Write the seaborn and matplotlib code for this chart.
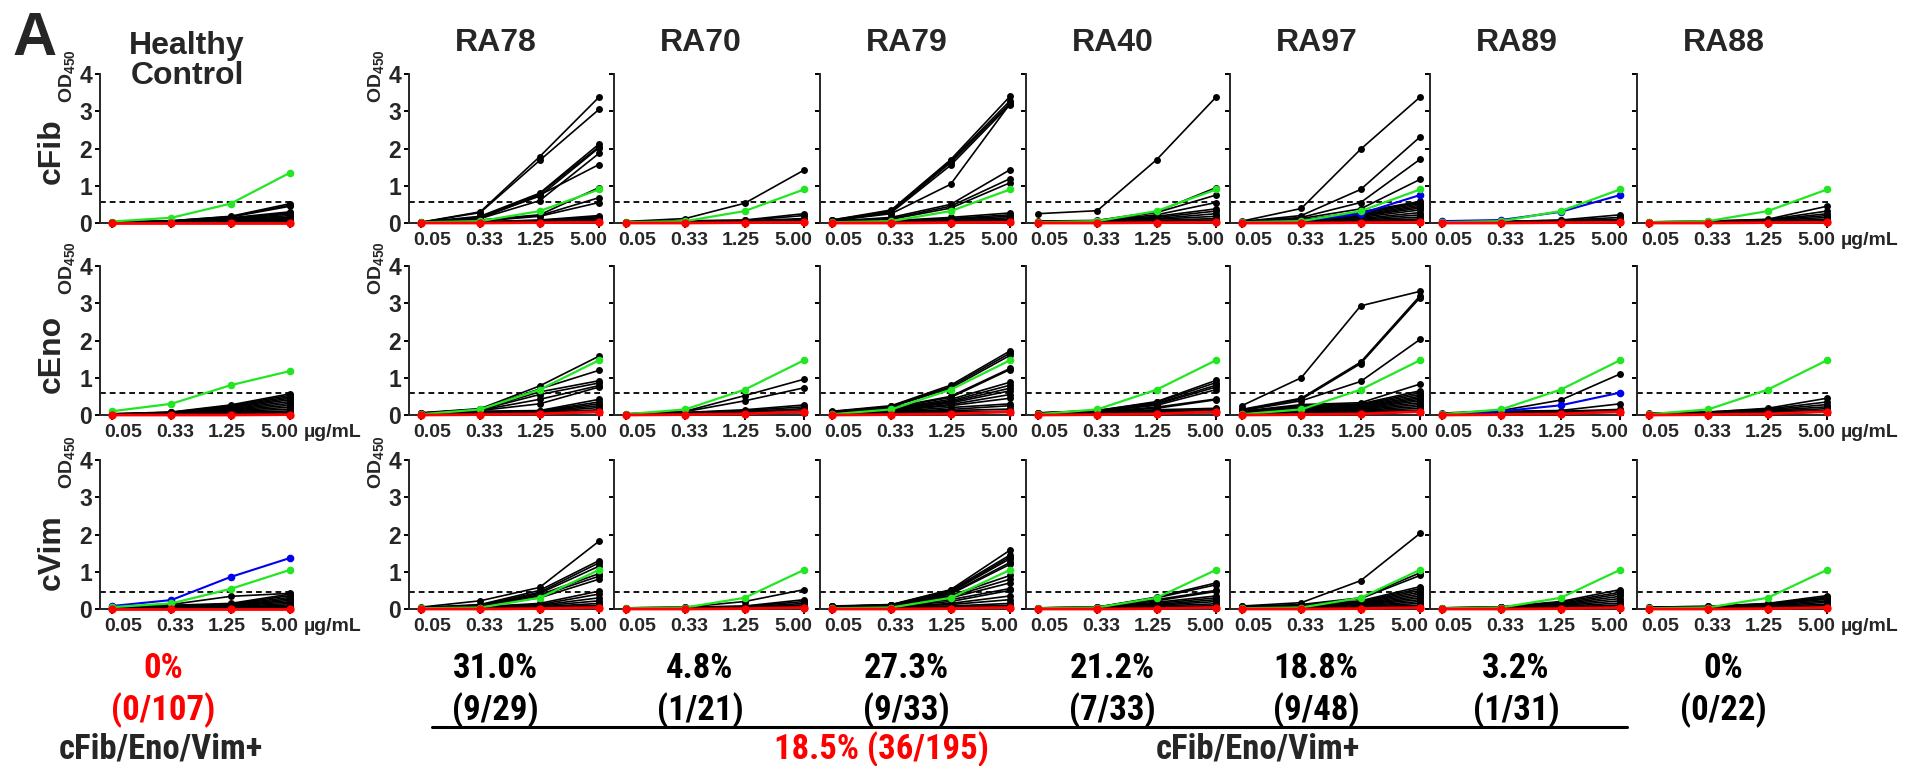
import matplotlib
matplotlib.use("Agg")
import matplotlib.pyplot as plt
from matplotlib import font_manager as fm
import pandas as pd
import seaborn as sns

# ---------------------------------------------------------------- labels
concentrations = ["0.05", "0.33", "1.25", "5.00"]
columns = ["Healthy\nControl", "RA78", "RA70", "RA79", "RA40", "RA97", "RA89", "RA88"]
antigens = ["cFib", "cEno", "cVim"]
cutoffs = [0.57, 0.58, 0.46]
positive_pct = ["0%", "31.0%", "4.8%", "27.3%", "21.2%", "18.8%", "3.2%", "0%"]
positive_counts = ["(0/107)", "(9/29)", "(1/21)", "(9/33)", "(7/33)", "(9/48)", "(1/31)", "(0/22)"]
ra_total = "18.5% (36/195)"
combo_label = "cFib/Eno/Vim+"

# ---------------------------------------------------------------- OD450 per serum (0.05, 0.33, 1.25, 5.00 ug/mL)
fib_hc = [[0.02, 0.06, 0.18, 0.52], [0.02, 0.06, 0.17, 0.48], [0.02, 0.05, 0.16, 0.45],
          [0.02, 0.05, 0.14, 0.30], [0.02, 0.04, 0.12, 0.27], [0.01, 0.04, 0.10, 0.24],
          [0.01, 0.03, 0.09, 0.20], [0.01, 0.03, 0.08, 0.16], [0.01, 0.03, 0.07, 0.13],
          [0.01, 0.02, 0.06, 0.10], [0.01, 0.02, 0.05, 0.08], [0.01, 0.02, 0.04, 0.06],
          [0.01, 0.02, 0.03, 0.04]]
fib_ra78 = [[0.02, 0.30, 1.78, 3.38], [0.02, 0.28, 1.68, 3.05], [0.02, 0.18, 0.80, 2.12],
            [0.02, 0.16, 0.78, 2.05], [0.02, 0.15, 0.72, 2.02], [0.02, 0.12, 0.60, 1.87],
            [0.02, 0.12, 0.75, 1.57], [0.02, 0.08, 0.22, 0.95], [0.02, 0.06, 0.20, 0.68],
            [0.02, 0.05, 0.18, 0.55], [0.01, 0.03, 0.08, 0.20], [0.01, 0.03, 0.07, 0.17],
            [0.01, 0.02, 0.06, 0.14], [0.01, 0.02, 0.05, 0.12], [0.01, 0.02, 0.05, 0.10],
            [0.01, 0.02, 0.04, 0.08], [0.01, 0.01, 0.03, 0.06], [0.01, 0.01, 0.02, 0.05],
            [0.00, 0.01, 0.02, 0.04], [0.00, 0.01, 0.02, 0.03]]
fib_ra70 = [[0.04, 0.12, 0.53, 1.42], [0.03, 0.06, 0.08, 0.25], [0.03, 0.05, 0.07, 0.20],
            [0.03, 0.05, 0.06, 0.12], [0.02, 0.04, 0.05, 0.09], [0.02, 0.04, 0.05, 0.07],
            [0.01, 0.03, 0.04, 0.05], [0.01, 0.02, 0.03, 0.04]]
fib_ra79 = [[0.08, 0.35, 1.70, 3.40], [0.08, 0.32, 1.66, 3.28], [0.07, 0.30, 1.62, 3.22],
            [0.06, 0.28, 1.55, 3.18], [0.06, 0.25, 1.04, 3.20], [0.05, 0.15, 0.50, 1.43],
            [0.05, 0.12, 0.45, 1.19], [0.04, 0.10, 0.40, 1.08], [0.04, 0.06, 0.15, 0.27],
            [0.03, 0.05, 0.12, 0.22], [0.03, 0.05, 0.10, 0.18], [0.02, 0.04, 0.08, 0.14],
            [0.02, 0.03, 0.07, 0.10], [0.02, 0.03, 0.05, 0.07], [0.01, 0.02, 0.04, 0.05],
            [0.01, 0.02, 0.03, 0.04]]
fib_ra40 = [[0.25, 0.33, 1.70, 3.38], [0.05, 0.07, 0.30, 0.95], [0.04, 0.06, 0.28, 0.75],
            [0.04, 0.06, 0.22, 0.55], [0.03, 0.05, 0.18, 0.38], [0.03, 0.05, 0.15, 0.32],
            [0.03, 0.04, 0.12, 0.25], [0.02, 0.04, 0.10, 0.18], [0.02, 0.03, 0.07, 0.12],
            [0.02, 0.03, 0.05, 0.08], [0.01, 0.02, 0.04, 0.05]]
fib_ra97 = [[0.05, 0.39, 1.98, 3.38], [0.04, 0.20, 0.90, 2.31], [0.04, 0.15, 0.55, 1.71],
            [0.03, 0.12, 0.38, 1.17], [0.03, 0.08, 0.30, 0.58], [0.03, 0.07, 0.28, 0.55],
            [0.03, 0.07, 0.25, 0.52], [0.02, 0.06, 0.22, 0.48], [0.02, 0.05, 0.20, 0.44],
            [0.02, 0.05, 0.18, 0.40], [0.02, 0.04, 0.15, 0.35], [0.02, 0.04, 0.12, 0.28],
            [0.02, 0.03, 0.10, 0.22], [0.01, 0.03, 0.08, 0.16], [0.01, 0.02, 0.06, 0.11],
            [0.01, 0.02, 0.04, 0.07], [0.01, 0.02, 0.03, 0.05]]
fib_ra89 = [[0.02, 0.04, 0.08, 0.22], [0.02, 0.04, 0.07, 0.15], [0.02, 0.03, 0.06, 0.10],
            [0.01, 0.03, 0.05, 0.07], [0.01, 0.02, 0.04, 0.05]]
fib_ra88 = [[0.03, 0.05, 0.10, 0.45], [0.03, 0.05, 0.09, 0.32], [0.02, 0.04, 0.08, 0.25],
            [0.02, 0.04, 0.07, 0.20], [0.02, 0.03, 0.06, 0.15], [0.01, 0.03, 0.05, 0.10],
            [0.01, 0.02, 0.04, 0.06]]

eno_hc = [[0.03, 0.08, 0.27, 0.57], [0.03, 0.07, 0.25, 0.53], [0.03, 0.07, 0.23, 0.49],
          [0.02, 0.06, 0.21, 0.45], [0.02, 0.06, 0.19, 0.41], [0.02, 0.05, 0.17, 0.36],
          [0.02, 0.05, 0.15, 0.31], [0.02, 0.04, 0.13, 0.26], [0.01, 0.04, 0.11, 0.21],
          [0.01, 0.03, 0.09, 0.16], [0.01, 0.03, 0.07, 0.11], [0.01, 0.02, 0.05, 0.07],
          [0.01, 0.02, 0.03, 0.04]]
eno_ra78 = [[0.06, 0.17, 0.78, 1.58], [0.05, 0.16, 0.70, 1.20], [0.05, 0.15, 0.62, 0.92],
            [0.04, 0.14, 0.55, 0.86], [0.04, 0.13, 0.42, 0.79], [0.04, 0.12, 0.30, 0.75],
            [0.03, 0.10, 0.12, 0.42], [0.03, 0.09, 0.11, 0.35], [0.03, 0.08, 0.10, 0.30],
            [0.02, 0.07, 0.09, 0.25], [0.02, 0.06, 0.08, 0.20], [0.02, 0.05, 0.07, 0.14],
            [0.02, 0.04, 0.06, 0.10], [0.01, 0.03, 0.05, 0.07]]
eno_ra70 = [[0.03, 0.10, 0.52, 0.96], [0.03, 0.09, 0.38, 0.73], [0.02, 0.07, 0.14, 0.27],
            [0.02, 0.06, 0.12, 0.22], [0.02, 0.05, 0.10, 0.17], [0.01, 0.05, 0.08, 0.13],
            [0.01, 0.04, 0.06, 0.09], [0.01, 0.03, 0.05, 0.06]]
eno_ra79 = [[0.10, 0.25, 0.80, 1.72], [0.09, 0.23, 0.76, 1.66], [0.09, 0.22, 0.72, 1.60],
            [0.08, 0.20, 0.50, 1.25], [0.08, 0.19, 0.47, 1.22], [0.07, 0.17, 0.42, 0.88],
            [0.07, 0.16, 0.38, 0.80], [0.06, 0.15, 0.35, 0.72], [0.06, 0.14, 0.32, 0.65],
            [0.05, 0.13, 0.28, 0.55], [0.05, 0.12, 0.25, 0.45], [0.04, 0.10, 0.20, 0.30],
            [0.04, 0.09, 0.15, 0.25], [0.03, 0.08, 0.12, 0.16], [0.03, 0.06, 0.09, 0.10],
            [0.02, 0.05, 0.07, 0.07]]
eno_ra40 = [[0.06, 0.12, 0.36, 0.93], [0.05, 0.12, 0.34, 0.87], [0.05, 0.11, 0.31, 0.80],
            [0.05, 0.11, 0.29, 0.75], [0.04, 0.10, 0.26, 0.68], [0.04, 0.09, 0.21, 0.43],
            [0.04, 0.09, 0.18, 0.41], [0.03, 0.08, 0.14, 0.18], [0.03, 0.07, 0.12, 0.15],
            [0.02, 0.06, 0.10, 0.12], [0.02, 0.05, 0.08, 0.09], [0.01, 0.04, 0.06, 0.06]]
eno_ra97 = [[0.25, 1.00, 2.93, 3.32], [0.15, 0.45, 1.42, 3.20], [0.14, 0.42, 1.38, 3.15],
            [0.12, 0.38, 0.90, 2.03], [0.10, 0.28, 0.33, 0.83], [0.09, 0.25, 0.30, 0.65],
            [0.08, 0.22, 0.28, 0.60], [0.08, 0.20, 0.26, 0.55], [0.07, 0.18, 0.24, 0.50],
            [0.07, 0.16, 0.22, 0.46], [0.06, 0.15, 0.20, 0.42], [0.06, 0.14, 0.18, 0.38],
            [0.05, 0.12, 0.16, 0.33], [0.05, 0.11, 0.14, 0.28], [0.04, 0.10, 0.12, 0.23],
            [0.04, 0.08, 0.10, 0.18], [0.03, 0.07, 0.08, 0.13], [0.03, 0.06, 0.07, 0.09]]
eno_ra89 = [[0.05, 0.12, 0.40, 1.10], [0.04, 0.10, 0.12, 0.30], [0.04, 0.09, 0.10, 0.15],
            [0.03, 0.08, 0.09, 0.12], [0.03, 0.07, 0.08, 0.10], [0.02, 0.06, 0.07, 0.07]]
eno_ra88 = [[0.05, 0.08, 0.18, 0.45], [0.04, 0.08, 0.16, 0.35], [0.04, 0.07, 0.14, 0.28],
            [0.03, 0.06, 0.12, 0.22], [0.03, 0.05, 0.10, 0.17], [0.02, 0.05, 0.08, 0.12],
            [0.02, 0.04, 0.06, 0.08]]

vim_hc = [[0.05, 0.12, 0.34, 0.42], [0.04, 0.10, 0.15, 0.40], [0.04, 0.09, 0.13, 0.36],
          [0.03, 0.08, 0.12, 0.31], [0.03, 0.07, 0.10, 0.27], [0.03, 0.06, 0.09, 0.23],
          [0.02, 0.05, 0.08, 0.19], [0.02, 0.04, 0.06, 0.15], [0.02, 0.04, 0.05, 0.11],
          [0.01, 0.03, 0.04, 0.07], [0.01, 0.02, 0.03, 0.04]]
vim_ra78 = [[0.05, 0.22, 0.58, 1.82], [0.04, 0.12, 0.50, 1.30], [0.04, 0.10, 0.45, 1.24],
            [0.04, 0.09, 0.42, 1.15], [0.03, 0.08, 0.38, 0.95], [0.03, 0.07, 0.35, 0.88],
            [0.03, 0.07, 0.30, 0.80], [0.03, 0.06, 0.15, 0.48], [0.02, 0.05, 0.12, 0.40],
            [0.02, 0.05, 0.10, 0.30], [0.02, 0.04, 0.08, 0.22], [0.01, 0.03, 0.06, 0.15],
            [0.01, 0.03, 0.05, 0.10], [0.01, 0.02, 0.04, 0.06]]
vim_ra70 = [[0.03, 0.05, 0.20, 0.52], [0.03, 0.05, 0.08, 0.25], [0.02, 0.04, 0.07, 0.20],
            [0.02, 0.04, 0.06, 0.15], [0.02, 0.03, 0.05, 0.11], [0.01, 0.03, 0.04, 0.07],
            [0.01, 0.02, 0.03, 0.04]]
vim_ra79 = [[0.08, 0.12, 0.52, 1.58], [0.07, 0.11, 0.50, 1.45], [0.07, 0.11, 0.47, 1.40],
            [0.07, 0.10, 0.45, 1.35], [0.06, 0.10, 0.42, 1.25], [0.06, 0.09, 0.40, 1.20],
            [0.06, 0.09, 0.36, 0.90], [0.05, 0.08, 0.33, 0.80], [0.05, 0.08, 0.30, 0.70],
            [0.05, 0.07, 0.25, 0.55], [0.04, 0.07, 0.20, 0.50], [0.04, 0.06, 0.15, 0.35],
            [0.03, 0.05, 0.12, 0.25], [0.03, 0.04, 0.08, 0.15], [0.02, 0.03, 0.06, 0.10],
            [0.02, 0.03, 0.04, 0.06]]
vim_ra40 = [[0.03, 0.05, 0.32, 0.70], [0.03, 0.05, 0.30, 0.65], [0.03, 0.05, 0.25, 0.50],
            [0.03, 0.04, 0.22, 0.47], [0.02, 0.04, 0.18, 0.35], [0.02, 0.04, 0.15, 0.30],
            [0.02, 0.03, 0.12, 0.25], [0.02, 0.03, 0.10, 0.20], [0.01, 0.03, 0.08, 0.14],
            [0.01, 0.02, 0.06, 0.09], [0.01, 0.02, 0.04, 0.05]]
vim_ra97 = [[0.08, 0.17, 0.76, 2.03], [0.07, 0.12, 0.30, 0.97], [0.06, 0.10, 0.28, 0.90],
            [0.06, 0.10, 0.22, 0.60], [0.05, 0.09, 0.20, 0.55], [0.05, 0.08, 0.18, 0.50],
            [0.05, 0.08, 0.16, 0.45], [0.04, 0.07, 0.14, 0.40], [0.04, 0.07, 0.12, 0.35],
            [0.04, 0.06, 0.11, 0.30], [0.03, 0.06, 0.10, 0.25], [0.03, 0.05, 0.08, 0.20],
            [0.03, 0.05, 0.07, 0.15], [0.02, 0.04, 0.06, 0.10], [0.02, 0.03, 0.05, 0.06]]
vim_ra89 = [[0.03, 0.06, 0.20, 0.52], [0.03, 0.05, 0.18, 0.45], [0.03, 0.05, 0.15, 0.40],
            [0.02, 0.05, 0.13, 0.34], [0.02, 0.04, 0.11, 0.28], [0.02, 0.04, 0.09, 0.22],
            [0.02, 0.03, 0.07, 0.16], [0.01, 0.03, 0.05, 0.11], [0.01, 0.02, 0.04, 0.07],
            [0.01, 0.02, 0.03, 0.04]]
vim_ra88 = [[0.05, 0.07, 0.15, 0.36], [0.05, 0.07, 0.14, 0.32], [0.04, 0.06, 0.13, 0.29],
            [0.04, 0.06, 0.12, 0.26], [0.03, 0.05, 0.10, 0.22], [0.03, 0.05, 0.08, 0.18],
            [0.02, 0.04, 0.07, 0.13], [0.02, 0.03, 0.05, 0.09], [0.01, 0.02, 0.04, 0.05]]

# positive (green) and negative (red) controls, per antigen
green_hc = [[0.04, 0.14, 0.52, 1.35], [0.10, 0.30, 0.80, 1.18], [0.05, 0.15, 0.54, 1.05]]
green_ra = [[0.02, 0.05, 0.32, 0.90], [0.02, 0.15, 0.68, 1.47], [0.02, 0.04, 0.30, 1.05]]
red_hc = [[0.00, 0.00, 0.00, 0.00], [0.00, 0.00, 0.00, 0.01], [0.00, 0.00, 0.00, 0.00]]
red_ra = [[0.00, 0.00, 0.01, 0.02], [0.00, 0.01, 0.03, 0.09], [0.00, 0.00, 0.01, 0.04]]
# individual sera highlighted in blue: (antigen index, column index, values)
blue_sera = [(2, 0, [0.08, 0.24, 0.86, 1.37]),
             (0, 5, [0.02, 0.05, 0.25, 0.75]),
             (0, 6, [0.05, 0.08, 0.30, 0.75]),
             (1, 6, [0.02, 0.10, 0.26, 0.60])]

panels = [
    [fib_hc, fib_ra78, fib_ra70, fib_ra79, fib_ra40, fib_ra97, fib_ra89, fib_ra88],
    [eno_hc, eno_ra78, eno_ra70, eno_ra79, eno_ra40, eno_ra97, eno_ra89, eno_ra88],
    [vim_hc, vim_ra78, vim_ra70, vim_ra79, vim_ra40, vim_ra97, vim_ra89, vim_ra88],
]

# ---------------------------------------------------------------- style
sns.set_style("ticks")
plt.rcParams["font.family"] = ["Liberation Sans", "DejaVu Sans"]
plt.rcParams["font.weight"] = "bold"
plt.rcParams["mathtext.default"] = "regular"


def condensed_bold_font():
    """Return the file of an installed narrow/condensed bold face, if any."""
    prefer = ["Liberation Sans Narrow", "Arial Narrow", "Roboto Condensed",
              "Open Sans Condensed", "Noto Sans", "DejaVu Sans", "Roboto", "Open Sans"]
    found = []
    for f in fm.fontManager.ttflist:
        w = f.weight if isinstance(f.weight, int) else {"bold": 700}.get(f.weight, 400)
        narrow_name = any(k in f.name for k in ("Narrow", "Condensed"))
        narrow_stretch = f.stretch in ("condensed", "semi-condensed", "extra-condensed",
                                       "ultra-condensed", 75, 62.5, 87.5)
        if (narrow_name or narrow_stretch) and w >= 600 and f.style == "normal":
            fam = next((p for p in prefer if f.name.startswith(p)), None)
            rank = prefer.index(fam) if fam else len(prefer)
            found.append((rank, f.fname))
    if found:
        return sorted(found)[0][1]
    return None


_cond = condensed_bold_font()


def summary_font(size):
    if _cond:
        return fm.FontProperties(fname=_cond, size=size)
    return fm.FontProperties(family="Liberation Sans", weight="bold", size=size * 0.8)


W, H = 1925, 766
fig = plt.figure(figsize=(W / 100, H / 100), dpi=100)
fig.patch.set_facecolor("white")

col_left = [100, 409, 614, 820, 1026, 1230, 1430, 1637]
row_top = [74, 266, 460]
AX_W, AX_H = 193, 149
GREEN, RED, BLUE = "#22e622", "#ff0000", "#0000ee"
# concentration labels sit slightly closer together than the tick marks
LABEL_SPREAD = 0.877
label_pos = [1.5 + (j - 1.5) * LABEL_SPREAD for j in range(len(concentrations))]


def fx(x):
    return x / W


def fy(y):
    return 1 - y / H


def draw_line(ax, values, color, lw, z, ms=5.5):
    sns.lineplot(x=list(range(len(values))), y=values, color=color, lw=lw,
                 marker="o", ms=ms, mew=0, ax=ax, clip_on=False, zorder=z)


for r, ant in enumerate(antigens):
    for c, col in enumerate(columns):
        ax = fig.add_axes([fx(col_left[c]), fy(row_top[r] + AX_H), AX_W / W, AX_H / H])
        sera = panels[r][c]
        df = pd.DataFrame([(i, j, v) for i, s in enumerate(sera) for j, v in enumerate(s)],
                          columns=["serum", "conc", "od"])
        sns.lineplot(data=df, x="conc", y="od", units="serum", estimator=None,
                     color="black", lw=1.2, marker="o", ms=5, mew=0, ax=ax,
                     legend=False, clip_on=False, zorder=2)
        for br, bc, vals in blue_sera:
            if br == r and bc == c:
                draw_line(ax, vals, BLUE, 1.5, 3)
        draw_line(ax, green_hc[r] if c == 0 else green_ra[r], GREEN, 1.6, 4)
        draw_line(ax, red_hc[r] if c == 0 else red_ra[r], RED, 2.0, 5, ms=6)
        ax.axhline(cutoffs[r], color="black", lw=1.3, ls=(0, (3.2, 2.2)), zorder=1)

        ax.set_xlim(-0.2, 3.05)
        ax.set_ylim(0, 4)
        ax.set_xticks(range(4))
        ax.set_xticklabels([])
        ax.set_yticks(range(5))
        ax.set_xlabel("")
        ax.set_ylabel("")
        for side in ("top", "right"):
            ax.spines[side].set_visible(False)
        for side in ("left", "bottom"):
            ax.spines[side].set_linewidth(1.4)
        ax.tick_params(axis="both", which="major", width=1.4, length=3.5, pad=2,
                       color="black")
        ax.tick_params(axis="y", labelsize=16.5)

        if c <= 1:
            ax.set_yticklabels([str(v) for v in range(5)], fontweight="bold")
            fig.text(fx(col_left[c] - 33), fy(row_top[r] + 2), "OD$_{450}$",
                     rotation=90, ha="center", va="center", fontsize=14,
                     fontweight="bold")
        else:
            ax.set_yticklabels([])

        if not (r == 0 and c == 0):
            ax.set_xticks(label_pos, minor=True)
            ax.set_xticklabels(concentrations, minor=True, fontweight="bold")
            ax.tick_params(axis="x", which="minor", length=0, pad=6.5, labelsize=14)
            if c == 0 or c == len(columns) - 1:
                ax.annotate("\u00b5g/mL", xy=(label_pos[-1], 0),
                            xycoords=("data", "axes fraction"),
                            xytext=(17.5, -6.5), textcoords="offset points",
                            ha="left", va="top", fontsize=14, fontweight="bold")
        ax.tick_params(axis="y", which="minor", length=0)

    fig.text(fx(52), fy([151, 354, 552][r]), ant, rotation=90, ha="center",
             va="center", fontsize=23, fontweight="bold")

# column titles
for c, col in enumerate(columns):
    y = 61 if c == 0 else 43
    fig.text(fx(col_left[c] + 87), fy(y), col, ha="center", va="center",
             fontsize=23, fontweight="bold", linespacing=1.0)

fig.text(fx(12), fy(11), "A", ha="left", va="top", fontsize=44, fontweight="bold")

# positivity summary
for c in range(len(columns)):
    colr = RED if c == 0 else "black"
    cx = fx(163) if c == 0 else fx(col_left[c] + 86)
    fig.text(cx, fy(669), positive_pct[c], ha="center", va="center",
             fontproperties=summary_font(25), color=colr)
    fig.text(cx, fy(710), positive_counts[c], ha="center", va="center",
             fontproperties=summary_font(25), color=colr)
fig.text(fx(161), fy(749), combo_label, ha="center", va="center",
         fontproperties=summary_font(25))
fig.add_artist(plt.Line2D([fx(432), fx(1627)], [fy(727), fy(727)], color="black",
                          lw=2.2, transform=fig.transFigure))
fig.text(fx(881), fy(749), ra_total, ha="center", va="center",
         fontproperties=summary_font(25), color=RED)
fig.text(fx(1258), fy(749), combo_label, ha="center", va="center",
         fontproperties=summary_font(25))

fig.savefig("out.png", dpi=100, facecolor="white")
